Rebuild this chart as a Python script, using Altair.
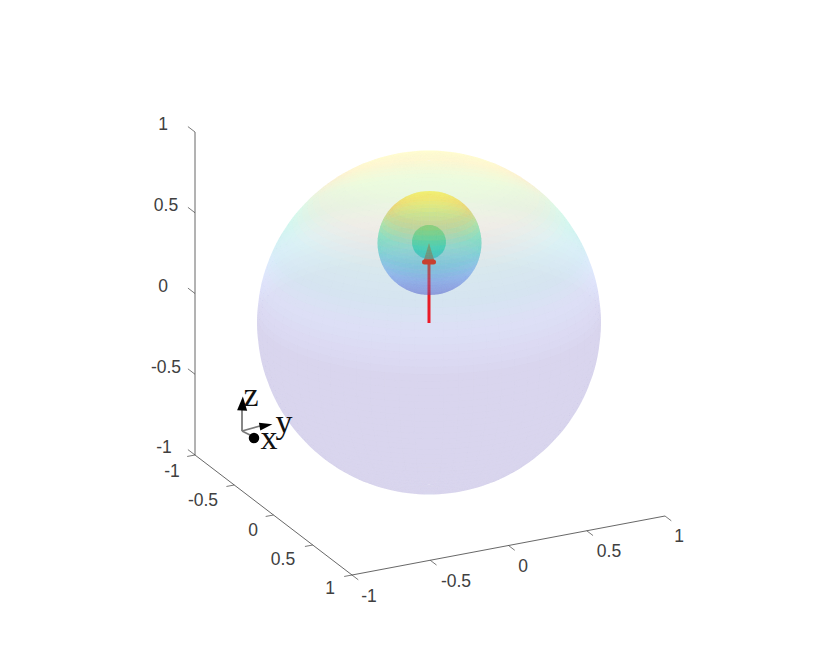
import numpy as np
import pandas as pd
import altair as alt

# ---- chart values ----
tick_values = [-1, -0.5, 0, 0.5, 1]
tick_text = ["-1", "-0.5", "0", "0.5", "1"]
x_label_px = [172, 203, 253, 283, 330]
x_label_py = [472, 501, 531, 560, 589]
y_label_px = [369, 456, 523, 609, 679]
y_label_py = [597, 582, 567, 552, 537]
z_label_px = [164, 166, 163, 166, 163]
z_label_py = [448, 368, 287, 206, 125]

# colormap: height on the sphere -> parula-like colour
cmap_z = [0.02, 0.17, 0.30, 0.46, 0.61, 0.69, 0.77, 0.91, 1.00]
cmap_colors = ["#3E26A8", "#5A64E1", "#5F91F5", "#19C3C3", "#37E1A5",
               "#96D264", "#F0B41E", "#FFF00A", "#F9FB15"]

# spheres: centre height, radius in data units, screen centre, screen radius, alpha
spheres = [
    {"z0": 0.0, "rz": 1.00, "cx": 429.0, "cy": 322.5, "R": 172.0, "alpha": 0.10, "nlon": 72, "nlat": 72},
    {"z0": 0.5, "rz": 0.42, "cx": 429.5, "cy": 243.0, "R": 52.0, "alpha": 0.32, "nlon": 40, "nlat": 32},
    {"z0": 0.5, "rz": 0.105, "cx": 429.0, "cy": 242.0, "R": 17.0, "alpha": 0.50, "nlon": 24, "nlat": 16},
]
elevation_deg = 20.0

# triad (screen positions)
triad_x = [242, 242, 242]
triad_y = [431, 431, 431]
triad_x2 = [242, 260, 250]
triad_y2 = [410, 426, 435]
triad_names = ["z", "y", "x"]
triad_lx = [251, 284, 269]
triad_ly = [396, 423, 439]

# ---- view: axes vectors ----
O = np.array([430.0, 324.0])
ex = np.array([78.5, 60.0])
ey = np.array([156.5, -29.5])
ez = np.array([0.0, -161.5])


def P(x, y, z):
    return O + x * ex + y * ey + z * ez


def sphere_features(s, front):
    el = np.radians(elevation_deg)
    lon = np.linspace(-np.pi, np.pi, s["nlon"] + 1)
    lat = np.linspace(-np.pi / 2, np.pi / 2, s["nlat"] + 1)
    feats = []

    def pt(a, b):
        u = np.cos(b) * np.sin(a)
        v = np.sin(b) * np.cos(el) - np.cos(b) * np.cos(a) * np.sin(el)
        return [round(float(s["cx"] + s["R"] * u), 2), round(float(s["cy"] - s["R"] * v), 2)]

    for i in range(s["nlon"]):
        for j in range(s["nlat"]):
            am, bm = (lon[i] + lon[i + 1]) / 2, (lat[j] + lat[j + 1]) / 2
            depth = np.cos(bm) * np.cos(am) * np.cos(el) + np.sin(bm) * np.sin(el)
            if (depth >= 0) != front:
                continue
            ring = [pt(lon[i], lat[j]), pt(lon[i + 1], lat[j]), pt(lon[i + 1], lat[j + 1]),
                    pt(lon[i], lat[j + 1]), pt(lon[i], lat[j])]
            feats.append({"type": "Feature",
                          "geometry": {"type": "Polygon", "coordinates": [ring]},
                          "properties": {"z": round(float(s["z0"] + s["rz"] * np.sin(bm)), 4)}})
    return feats


W, H = 814, 656
xs = alt.Scale(domain=[8, 8 + W], nice=False, zero=False)
ys = alt.Scale(domain=[8 + H, 8], nice=False, zero=False)
X = lambda f="x": alt.X(f"{f}:Q", scale=xs, axis=None)
Y = lambda f="y": alt.Y(f"{f}:Q", scale=ys, axis=None)
colour = alt.Color("properties.z:Q", legend=None,
                   scale=alt.Scale(domain=cmap_z, range=cmap_colors, clamp=True, interpolate="rgb"))


def shell(s, front):
    return (alt.Chart(alt.Data(values=sphere_features(s, front)))
            .mark_geoshape(opacity=s["alpha"], strokeWidth=0)
            .encode(color=colour).project(type="identity", scale=1, translate=[-8, -8]))


def seg(rows, color, width, cap="butt"):
    return (alt.Chart(pd.DataFrame(rows, columns=["x", "y", "x2", "y2"]))
            .mark_rule(color=color, strokeWidth=width, strokeCap=cap)
            .encode(x=X(), y=Y(), x2="x2:Q", y2="y2:Q"))


def labels(px, py, texts, font, size, color):
    d = pd.DataFrame({"x": px, "y": py, "t": texts})
    return (alt.Chart(d).mark_text(font=font, fontSize=size, color=color, align="center", baseline="middle")
            .encode(x=X(), y=Y(), text="t:N"))


def head(x, y, path, size, angle, color):
    d = pd.DataFrame({"x": [x], "y": [y]})
    return (alt.Chart(d).mark_point(shape=path, size=size, angle=angle, filled=True, opacity=1,
                                    color=color, strokeWidth=0)
            .encode(x=X(), y=Y()))


# 3-D axes
c_a = P(-1, -1, -1)
c_x = P(1, -1, -1)
c_y = P(1, 1, -1)
c_z = P(-1, -1, 1)
axis_rows = [[*c_a, *c_x], [*c_x, *c_y], [*c_a, *c_z]]
tick_rows = []
for t in tick_values:
    a = P(t, -1, -1); tick_rows.append([*a, *(a - 0.05 * ey)])
    a = P(1, t, -1); tick_rows.append([*a, *(a + 0.08 * ex)])
    a = P(-1, -1, t); tick_rows.append([*a, *(a - 0.09 * ex)])

# red arrow
tip = np.array([429.0, 243.0])
foot = np.array([429.0, 323.0])
cone_path = "M-0.3,0.5L0.3,0.5L0,-0.5Z"

layers = [
    seg(axis_rows, "#404040", 0.8),
    seg(tick_rows, "#404040", 0.7),
    labels(x_label_px, x_label_py, tick_text, "Liberation Sans", 17.5, "#404040"),
    labels(y_label_px, y_label_py, tick_text, "Liberation Sans", 17.5, "#404040"),
    labels(z_label_px, z_label_py, tick_text, "Liberation Sans", 17.5, "#404040"),
]
layers += [shell(s, False) for s in spheres]
layers += [
    seg([[foot[0], foot[1], tip[0], tip[1] + 16]], "#FF0A14", 3),
    head(tip[0], tip[1] + 9.5, cone_path, 1444, 0, "#E5322A"),
]
layers += [shell(s, True) for s in reversed(spheres)]
layers += [
    seg([[tip[0] - 4.5, tip[1] + 19, tip[0] + 4.5, tip[1] + 19]], "#C8402F", 5, "round"),
    seg([[a, b, c, d] for a, b, c, d in zip(triad_x, triad_y, triad_x2, triad_y2)], "#7a7a7a", 1.8),
    head(242.5, 403.5, cone_path.replace("0.3", "0.36"), 784, 3, "#000000"),
    head(266, 425.5, cone_path, 676, 80, "#000000"),
    head(254, 438, "circle", 110, 0, "#000000"),
    labels(triad_lx, triad_ly, triad_names, "Liberation Serif", 34, "#111111"),
]

chart = alt.layer(*layers).properties(
    width=W, height=H, padding=0, autosize=alt.AutoSizeParams(type="none")
).configure_view(stroke=None)

chart.save("out.html", embed_options={"renderer": "svg", "actions": False})
